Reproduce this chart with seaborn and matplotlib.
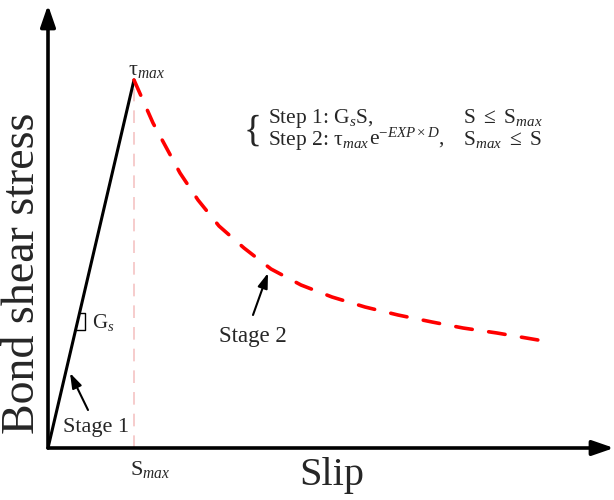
import numpy as np
import pandas as pd
import matplotlib
matplotlib.use("Agg")
import matplotlib.pyplot as plt
import seaborn as sns

# Curve values (arbitrary units)
stage1_slip = [0.0, 0.86]
stage1_stress = [0.0, 3.68]
stage2_slip = [0.86, 1.05, 1.32, 1.50, 1.71, 1.96, 2.23, 2.53, 2.84, 3.17, 3.50, 3.84, 4.15, 4.49, 4.90]
stage2_stress = [3.68, 3.25, 2.75, 2.48, 2.22, 2.00, 1.79, 1.63, 1.51, 1.41, 1.33, 1.26, 1.20, 1.15, 1.08]
s_max = stage1_slip[-1]
tau_max = stage1_stress[-1]

sns.set_theme(style="white")
plt.rcParams['font.family'] = ['Liberation Serif', 'DejaVu Serif']
plt.rcParams['mathtext.fontset'] = 'custom'
plt.rcParams['mathtext.rm'] = 'Liberation Serif'
plt.rcParams['mathtext.it'] = 'Liberation Serif:italic'
plt.rcParams['mathtext.bf'] = 'Liberation Serif:bold'

fig = plt.figure(figsize=(6.14, 5.0), dpi=100)
ax = fig.add_axes([48 / 614, 52 / 500, 566 / 614, 448 / 500])
ax.set_xlim(0, 5.66)
ax.set_ylim(0, 4.48)
ax.set_axis_off()

df1 = pd.DataFrame({'slip': stage1_slip, 'stress': stage1_stress})
df2 = pd.DataFrame({'slip': stage2_slip, 'stress': stage2_stress})

# Stage 1 - linear part
sns.lineplot(data=df1, x='slip', y='stress', color='black', lw=2.2, ax=ax, sort=False)
# Stage 2 - exponential decay, dashed red
sns.lineplot(data=df2, x='slip', y='stress', color='red', lw=2.6, ax=ax, sort=False)
ax.lines[-1].set_dashes([4.6, 4.6])
ax.lines[-1].set_dash_capstyle('round')
ax.lines[-1].set_dash_joinstyle('round')

# faint guide at S_max
ax.plot([s_max, s_max], [0, tau_max], color='#f6c8c8', lw=1.3, dashes=(7, 5), zorder=1)

# axes drawn as arrows
arrow_style = '-|>,head_length=1.3,head_width=0.45'
ax.annotate('', xy=(0, 4.43), xytext=(0, 0), annotation_clip=False,
            arrowprops=dict(arrowstyle=arrow_style, color='black', lw=2.6,
                            mutation_scale=10, shrinkA=0, shrinkB=0))
ax.annotate('', xy=(5.66, 0), xytext=(0, 0), annotation_clip=False,
            arrowprops=dict(arrowstyle=arrow_style, color='black', lw=2.6,
                            mutation_scale=10, shrinkA=0, shrinkB=0))

# G_s slope marker
k = s_max / tau_max
ax.plot([1.35 * k, 0.37, 0.37, 1.18 * k], [1.35, 1.35, 1.18, 1.18], color='black', lw=1.0)
ax.text(0.44, 1.20, r'G$_{s}$', fontsize=15, va='baseline', ha='left')

# stage labels with arrows
small_arrow = dict(arrowstyle='-|>,head_length=0.9,head_width=0.3', color='black', lw=1.5,
                   mutation_scale=10, shrinkA=0, shrinkB=0)
ax.annotate('', xy=(0.22, 0.75), xytext=(0.40, 0.38), arrowprops=small_arrow)
ax.text(0.15, 0.16, 'Stage 1', fontsize=16, va='baseline', ha='left')
ax.annotate('', xy=(2.20, 1.75), xytext=(2.05, 1.33), arrowprops=small_arrow)
ax.text(1.71, 1.06, 'Stage 2', fontsize=16.5, va='baseline', ha='left')

# peak and S_max labels
ax.text(0.80, 3.73, r'$\mathrm{\tau}_{max}$', fontsize=16, va='baseline', ha='left')
ax.text(0.82, -0.27, r'S$_{max}$', fontsize=16, va='baseline', ha='left', clip_on=False)

# axis titles
ax.text(2.84, -0.37, 'Slip', fontsize=29, va='baseline', ha='center', clip_on=False)
ax.text(-0.255, 1.75, 'Bond shear stress', fontsize=33, rotation=90, va='center', ha='center',
        clip_on=False)

# model equations
ax.text(1.96, 3.17, '{', fontsize=27, va='center', ha='left')
ax.text(2.20, 3.245, r'Step 1: G$_{s}$S,', fontsize=15.5, va='baseline', ha='left')
t2 = ax.text(2.20, 3.035, r'Step 2: $\mathrm{\tau}_{max}$', fontsize=15.5, va='baseline', ha='left')
fig.canvas.draw()
x_end = ax.transData.inverted().transform(t2.get_window_extent().get_points())[1, 0]
ax.text(x_end, 3.035, r'$\mathrm{e}^{\mathrm{-}EXP\times D}$,', fontsize=15.5, va='baseline', ha='left')
ax.text(4.15, 3.245, r'S $\leq$ S$_{max}$', fontsize=15.5, va='baseline', ha='left')
ax.text(4.15, 3.035, r'S$_{max}$ $\leq$ S', fontsize=15.5, va='baseline', ha='left')

fig.savefig('out.png', dpi=100)
